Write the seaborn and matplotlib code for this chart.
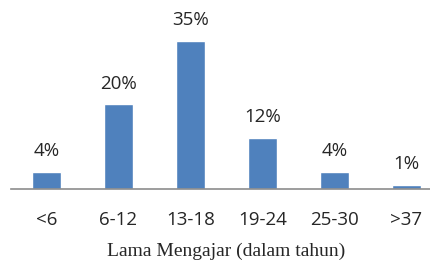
import matplotlib
matplotlib.use("Agg")
import matplotlib.pyplot as plt
import seaborn as sns
import pandas as pd

categories = ["<6", "6-12", "13-18", "19-24", "25-30", ">37"]
values = [4, 20, 35, 12, 4, 1]
labels = ["4%", "20%", "35%", "12%", "4%", "1%"]
xlabel = "Lama Mengajar (dalam tahun)"

sns.set_theme(style="white")
plt.rcParams['font.family'] = ['Open Sans', 'DejaVu Sans']

df = pd.DataFrame({"cat": categories, "val": values})

fig = plt.figure(figsize=(4.30, 2.61), dpi=100)
W, H = 430, 261
ax = fig.add_axes([10.5 / W, 72 / H, 432 / W, 169 / H])
sns.barplot(data=df, x="cat", y="val", color="#4F81BD", saturation=1, width=0.4, ax=ax)
ax.set_xlim(-0.5, 5.5)
ax.set_ylim(0, 40)

for i, (v, t) in enumerate(zip(values, labels)):
    ax.annotate(t, (i, v), xytext=(0, 15), textcoords="offset points",
                ha="center", va="center", fontsize=13.5, color="#262626")

for s in ["top", "right", "left"]:
    ax.spines[s].set_visible(False)
ax.spines["bottom"].set_color("#8C8C8C")
ax.spines["bottom"].set_linewidth(1.2)
ax.set_yticks([])
ax.set_ylabel("")
ax.tick_params(axis="x", length=0, pad=16, labelsize=13.5, labelcolor="#262626")
ax.set_xlabel(xlabel, fontsize=14, family=["Liberation Serif"], color="#262626", labelpad=9.5)

fig.savefig("out.png", dpi=100)
